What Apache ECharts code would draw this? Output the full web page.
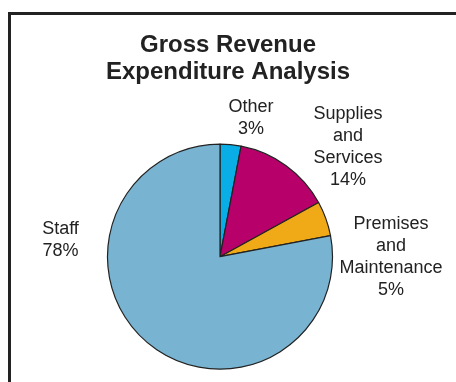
<!DOCTYPE html>
<html>
<head>
<meta charset="utf-8">
<script src="https://cdn.jsdelivr.net/npm/echarts@6/dist/echarts.min.js"></script>
<style>
  html, body { margin: 0; padding: 0; background: #ffffff; }
  #chart { width: 456px; height: 382px; }
</style>
</head>
<body>
<div id="chart"></div>
<script>
// Expenditure categories, clockwise from twelve o'clock
const categories = ['Other', 'Supplies\nand\nServices', 'Premises\nand\nMaintenance', 'Staff'];
// Share of gross revenue expenditure, in percent
const shares = [3, 14, 5, 78];
// Slice fills
const sliceColors = ['#0aaee6', '#b8006b', '#f0aa17', '#78b4d2'];
// Where each slice's caption block is centred (pixels)
const labelAnchors = [[251, 118], [348, 147], [391, 257], [60.5, 240]];

const chart = echarts.init(document.getElementById('chart'), null, { renderer: 'canvas' });

chart.setOption({
  backgroundColor: '#ffffff',
  animation: false,
  title: {
    text: 'Gross Revenue\nExpenditure Analysis',
    left: 'center',
    top: 32,
    padding: 0,
    textStyle: {
      fontFamily: '"Liberation Sans", Arial, sans-serif',
      fontSize: 24,
      fontWeight: 'bold',
      lineHeight: 27,
      color: '#222222'
    }
  },
  graphic: [{
    type: 'rect',
    shape: { x: 9.5, y: 13.5, width: 480, height: 400 },
    style: { fill: 'none', stroke: '#222222', lineWidth: 3 },
    silent: true
  }],
  series: [{
    type: 'pie',
    center: [220, 256.7],
    radius: [0, 112.5],
    startAngle: 90,
    clockwise: true,
    avoidLabelOverlap: false,
    data: categories.map((name, i) => ({
      name: name,
      value: shares[i],
      itemStyle: { color: sliceColors[i] }
    })),
    itemStyle: { borderColor: '#222222', borderWidth: 1.2 },
    label: {
      show: true,
      position: 'outside',
      formatter: '{b}\n{c}%',
      fontFamily: '"Liberation Sans", Arial, sans-serif',
      fontSize: 18,
      lineHeight: 22,
      color: '#222222'
    },
    labelLine: { show: false },
    labelLayout: function (params) {
      const a = labelAnchors[params.dataIndex];
      return { x: a[0], y: a[1], align: 'center', verticalAlign: 'middle' };
    },
    emphasis: { disabled: true }
  }]
});
</script>
</body>
</html>
